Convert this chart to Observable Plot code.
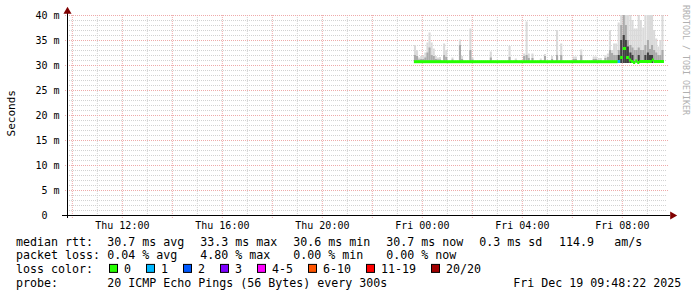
<!DOCTYPE html>
<html><head><meta charset="utf-8">
<script src="https://cdn.jsdelivr.net/npm/d3@7"></script>
<script src="https://cdn.jsdelivr.net/npm/@observablehq/plot@0.6"></script>
<style>body{margin:0;background:#fff}svg{display:block}</style>
</head><body><div id="chart"></div>
<script>
// ---- axis ticks ----
const yTicks = [0, 5, 10, 15, 20, 25, 30, 35, 40];
const yTickLabels = ["0\u00a0\u00a0", "5 m", "10 m", "15 m", "20 m", "25 m", "30 m", "35 m", "40 m"];
const xTickTimes = ["2025-12-18T12:00:00Z", "2025-12-18T16:00:00Z", "2025-12-18T20:00:00Z", "2025-12-19T00:00:00Z", "2025-12-19T04:00:00Z", "2025-12-19T08:00:00Z"];
const xTickLabels = ["Thu 12:00", "Thu 16:00", "Thu 20:00", "Fri 00:00", "Fri 04:00", "Fri 08:00"];

// ---- smoke columns (minutes after Fri 00:00, 5-min steps), values in ms ----
const smokeMinute = [-19, -14, -9, -4, 1, 6, 11, 16, 21, 26, 31, 36, 41, 51, 56, 71, 89, 94, 114, 119, 163, 208, 223, 243, 249, 254, 263, 283, 293, 310, 322, 332, 362, 367, 380, 410, 415, 422, 427, 438, 444, 449, 454, 459, 464, 470, 476, 482, 487, 492, 498, 503, 508, 513, 518, 523, 529, 534, 540, 545, 550, 555, 560, 565, 570, 575];
const smokeMax = [34.0, 33.0, 31.5, 31.8, 31.8, 32.5, 34.5, 36.5, 34.5, 33.3, 31.8, 31.5, 31.6, 34.3, 33.0, 31.5, 35.1, 31.8, 37.3, 31.5, 32.7, 33.8, 31.3, 32.3, 38.7, 32.3, 32.3, 31.3, 32.2, 31.8, 37.0, 34.3, 31.7, 31.7, 33.1, 31.7, 31.7, 31.4, 31.4, 32.0, 32.3, 37.0, 33.0, 34.3, 34.3, 38.5, 40, 40, 40, 40, 40, 39.0, 37.3, 37.3, 40, 39.0, 37.5, 40, 40, 40, 40, 37.0, 35.3, 33.7, 35.0, 40];
const smokeMid = [32.0, 31.8, 31.1, 31.2, 31.2, 31.5, 32.5, 33.5, 32.0, 31.8, 31.2, 31.1, 31.1, 32.0, 31.6, 31.1, 34.0, 31.2, 33.0, 31.1, 31.5, 31.6, 31.0, 31.8, 32.0, 31.4, 31.4, 31.0, 31.8, 31.2, 32.0, 32.0, 31.2, 31.2, 32.0, 31.2, 31.2, 31.0, 31.0, 31.4, 31.6, 33.0, 32.4, 32.0, 32.0, 33.0, 38.0, 40, 38.0, 35.0, 34.0, 33.5, 33.0, 33.0, 33.5, 33.0, 33.0, 34.0, 35.0, 33.2, 34.0, 33.0, 32.5, 32.0, 32.0, 33.0];
const smokeCore = [null, null, null, null, null, null, null, null, null, null, null, null, null, null, null, null, null, null, null, null, null, null, null, null, null, null, null, null, null, null, null, null, null, null, null, null, null, null, null, null, null, null, null, null, null, 32.0, 35.0, 36.0, 35.0, 33.7, 32.5, 32.0, null, null, 32.0, null, null, 32.0, 32.5, 32.0, 32.0, null, null, null, null, null];
const smokeFloor = 30.4;

// ---- median rtt segments (start minute after Fri 00:00), value ms, lost pings ----
const medStart = [-19, 470, 476, 482, 490, 497, 502, 507, 512, 517, 522, 552, 557];
const medValue = [30.66, 30.7, 31.5, 33.3, 31.5, 31.0, 30.7, 30.5, 30.8, 30.5, 30.7, 31.0, 30.7];
const medLoss = [0, 1, 0, 0, 0, 0, 0, 0, 0, 0, 0, 0, 0];
const medEndMinute = 581;

// ---- legend ----
const lossLabels = ["0", "1", "2", "3", "4-5", "6-10", "11-19", "20/20"];
const lossColors = ["#26ff00", "#00b8ff", "#0059ff", "#7e00ff", "#ff00ff", "#ff5500", "#ff0000", "#a10000"];
const lossUpper = [0, 1, 2, 3, 5, 10, 19, 20];
const medianStats = ["30.7 ms avg", "33.3 ms max", "30.6 ms min", "30.7 ms now", "0.3 ms sd", "114.9", "am/s"];
const lossStats = ["0.04 % avg", "4.80 % max", "0.00 % min", "0.00 % now"];
const probeText = "20 ICMP Echo Pings (56 Bytes) every 300s";
const stampText = "Fri Dec 19 09:48:22 2025";

// ---- build ----
const T0 = Date.UTC(2025, 11, 19, 0, 0, 0);
const toDate = m => new Date(T0 + m * 60000);
const start = new Date(Date.UTC(2025, 11, 18, 9, 48, 22));
const end = new Date(Date.UTC(2025, 11, 19, 9, 48, 22));

const smoke = smokeMinute.map((m, i) => ({t1: toDate(m), t2: toDate(m + 5), max: smokeMax[i], mid: smokeMid[i], core: smokeCore[i]}));
const med = medStart.map((m, i) => ({
  t1: toDate(m), t2: toDate(i < medStart.length - 1 ? medStart[i + 1] : medEndMinute),
  v: medValue[i], color: lossColors[lossUpper.findIndex(u => medLoss[i] <= u)]
}));

const hours = d3.utcHour.range(d3.utcHour.ceil(start), end);
const majorX = hours.filter(d => d.getUTCHours() % 2 === 0);
const minorX = hours.filter(d => d.getUTCHours() % 2 === 1);
const majorY = yTicks.filter(d => d > 0);
const minorY = d3.range(1, 40).filter(d => d % 5 !== 0);

const gridGrey = "#d2d2d2", gridRed = "#eeaaaa";

const chart = Plot.plot({
  width: 697, height: 297,
  marginLeft: 67, marginRight: 30, marginTop: 15, marginBottom: 82,
  style: {fontFamily: "'DejaVu Sans Mono', monospace", fontSize: "10px", background: "#fff", color: "#000", overflow: "visible"},
  x: {type: "utc", domain: [start, end]},
  y: {domain: [0, 40]},
  color: {type: "identity"},
  marks: [
    Plot.ruleY(minorY, {stroke: gridGrey, strokeDasharray: "1,1"}),
    Plot.ruleX(minorX, {stroke: gridGrey, strokeDasharray: "1,1"}),
    Plot.ruleY(majorY, {stroke: gridRed, strokeDasharray: "1,1", insetLeft: -2, insetRight: -1}),
    Plot.ruleX(majorX, {stroke: gridRed, strokeDasharray: "1,1", insetBottom: -3}),
    Plot.rect(smoke, {x1: "t1", x2: "t2", y1: smokeFloor, y2: "max", fill: "#dadada"}),
    Plot.rect(smoke, {x1: "t1", x2: "t2", y1: smokeFloor, y2: "mid", fill: "#aaaaaa"}),
    Plot.rect(smoke.filter(d => d.core != null), {x1: "t1", x2: "t2", y1: smokeFloor, y2: "core", fill: "#404040"}),
    Plot.rect(med, {x1: "t1", x2: "t2", y1: d => d.v - 0.3, y2: d => d.v + 0.3, fill: "color"}),
    Plot.ruleY([0], {stroke: "#000", insetLeft: -5, insetRight: -3}),
    Plot.ruleX([start], {stroke: "#000", insetTop: -4, insetBottom: -3}),
    Plot.dot([{x: end, y: 0}], {x: "x", y: "y", symbol: "triangle", rotate: 90, r: 3, fill: "#800000", stroke: "none", dx: 5}),
    Plot.dot([{x: start, y: 40}], {x: "x", y: "y", symbol: "triangle", r: 3, fill: "#800000", stroke: "none", dy: -4}),
    Plot.axisX({ticks: xTickTimes.map(d => new Date(d)), tickFormat: (d, i) => xTickLabels[i], tickSize: 0, tickPadding: 6, label: null}),
    Plot.axisY({ticks: yTicks, tickFormat: (d, i) => yTickLabels[i], tickSize: 0, tickPadding: 8, label: null})
  ]
});
document.getElementById("chart").appendChild(chart);

const svg = d3.select(chart);
svg.append("text").attr("transform", "translate(14.5,113.3) rotate(-90)").attr("text-anchor", "middle")
  .attr("font-size", "11px").attr("fill", "#000").text("Seconds");
svg.append("text").attr("transform", "translate(683,60) rotate(90)").attr("text-anchor", "middle")
  .attr("font-size", "8.3px").attr("fill", "#b0b0b0").text("RRDTOOL / TOBI OETIKER");

const lg = svg.append("g").attr("font-size", "11.63px").attr("fill", "#000").attr("text-anchor", "start");
const txt = (x, y, s) => lg.append("text").attr("x", x).attr("y", y).attr("text-anchor", "start").style("white-space", "pre").text(s);
const rows = [245.6, 259.2, 272.9, 286.5];
const statX = [107.3, 200.3, 293.3, 386.3, 479.3, 559, 614.3];
txt(16, rows[0], "median rtt:");
medianStats.forEach((s, i) => txt(statX[i], rows[0], s));
txt(16, rows[1], "packet loss:");
lossStats.forEach((s, i) => txt(statX[i], rows[1], s));
txt(16, rows[2], "loss color:");
let bx = 109;
lossLabels.forEach((s, i) => {
  lg.append("rect").attr("x", bx + 0.5).attr("y", rows[2] - 8.5).attr("width", 8).attr("height", 8)
    .attr("fill", lossColors[i]).attr("stroke", "#000").attr("stroke-width", 1);
  txt(bx + 15, rows[2], s);
  bx += 30 + 7 * s.length;
});
txt(16, rows[3], "probe:");
txt(107.3, rows[3], probeText);
txt(513.3, rows[3], stampText);
</script></body></html>
